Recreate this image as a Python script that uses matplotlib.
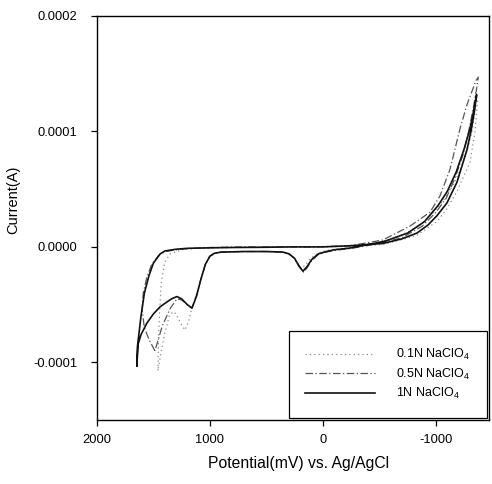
import matplotlib
matplotlib.use("Agg")
import matplotlib.pyplot as plt
import numpy as np
from matplotlib.ticker import FuncFormatter

plt.rcParams['font.family'] = ['Liberation Sans', 'DejaVu Sans']
plt.rcParams['mathtext.default'] = 'regular'

# ---- data (potential in mV, current in units of 1e-4 A) ----
labels = ['0.1N NaClO$_4$', '0.5N NaClO$_4$', '1N NaClO$_4$']

pot_01 = [1460, 1455, 1445, 1430, 1400, 1350, 1250, 1100, 800, 500,
          250, 0, -239, -531, -832, -1009, -1097, -1186, -1240, -1301,
          -1345, -1370,
          -1362, -1345, -1320, -1280, -1230, -1160, -1080, -980, -850, -650,
          -450, -239, -100, -20, 50, 110, 150, 190, 225, 265,
          310, 360, 500, 700, 900, 970, 1010, 1050, 1100, 1159,
          1190, 1221, 1260, 1300, 1327, 1360, 1400, 1430, 1460]
cur_01 = [-1.07, -0.8, -0.55, -0.3, -0.13, -0.06, -0.025, -0.01, -0.005, 0.0,
          0.0, 0.0, 0.005, 0.02, 0.1, 0.22, 0.33, 0.48, 0.6, 0.73,
          0.99, 1.28,
          1.3, 1.18, 1.0, 0.85, 0.7, 0.55, 0.42, 0.3, 0.18, 0.08,
          0.03, -0.005, -0.02, -0.035, -0.055, -0.1, -0.15, -0.19, -0.15, -0.09,
          -0.055, -0.045, -0.04, -0.04, -0.045, -0.06, -0.09, -0.18, -0.35, -0.53,
          -0.65, -0.72, -0.66, -0.58, -0.56, -0.6, -0.75, -0.9, -1.07]

pot_05 = [1487, 1540, 1580, 1600, 1590, 1560, 1515, 1450, 1390, 1300,
          1200, 1000, 700, 400, 100, -239, -531, -770, -947, -1035,
          -1124, -1212, -1274, -1320, -1354, -1375,
          -1365, -1330, -1290, -1240, -1170, -1090, -1000, -880, -700, -500,
          -239, -100, -30, 40, 100, 140, 170, 205, 250, 300,
          354, 500, 700, 900, 960, 1000, 1040, 1080, 1120, 1159,
          1200, 1250, 1292, 1350, 1420, 1487]
cur_05 = [-0.9, -0.8, -0.7, -0.55, -0.4, -0.27, -0.15, -0.07, -0.04, -0.025,
          -0.015, -0.005, 0.0, 0.0, 0.0, 0.01, 0.06, 0.18, 0.30, 0.44,
          0.67, 1.02, 1.23, 1.35, 1.44, 1.47,
          1.4, 1.2, 1.0, 0.8, 0.6, 0.42, 0.3, 0.18, 0.08, 0.03,
          -0.015, -0.03, -0.045, -0.065, -0.12, -0.18, -0.22, -0.17, -0.1, -0.06,
          -0.045, -0.04, -0.04, -0.045, -0.055, -0.08, -0.15, -0.28, -0.43, -0.53,
          -0.50, -0.46, -0.45, -0.53, -0.68, -0.9]

pot_1 = [1646, 1640, 1628, 1610, 1580, 1540, 1500, 1440, 1398, 1300,
         1195, 1000, 800, 500, 292, 0, -239, -531, -700, -832,
         -930, -1009, -1097, -1186, -1274, -1310, -1340, -1360,
         -1352, -1330, -1300, -1250, -1180, -1100, -1020, -900, -750, -550,
         -400, -239, -100, -30, 40, 100, 140, 177, 210, 250,
         300, 354, 500, 700, 900, 960, 1000, 1040, 1080, 1120,
         1159, 1200, 1250, 1292, 1340, 1400, 1442, 1500, 1558, 1610,
         1638, 1646]
cur_1 = [-1.03, -0.85, -0.75, -0.6, -0.4, -0.25, -0.14, -0.06, -0.035, -0.02,
         -0.012, -0.008, -0.005, -0.003, 0.0, 0.0, 0.01, 0.03, 0.07, 0.12,
         0.19, 0.27, 0.38, 0.56, 0.84, 1.0, 1.17, 1.32,
         1.28, 1.16, 1.02, 0.85, 0.65, 0.48, 0.36, 0.22, 0.12, 0.05,
         0.02, -0.01, -0.025, -0.04, -0.06, -0.11, -0.17, -0.21, -0.17, -0.1,
         -0.06, -0.045, -0.04, -0.04, -0.045, -0.055, -0.08, -0.15, -0.28, -0.43,
         -0.53, -0.50, -0.45, -0.43, -0.45, -0.49, -0.52, -0.58, -0.66, -0.76,
         -0.85, -1.03]

x_ticks = [2000, 1000, 0, -1000]
y_ticks = [-0.0001, 0.0, 0.0001, 0.0002]

fig = plt.figure(figsize=(4.92, 4.84), dpi=100)
ax = fig.add_axes([0.197, 0.132, 0.797, 0.835])

scale = 1e-4
ax.plot(pot_01, np.array(cur_01) * scale, color='#8a8a8a', lw=0.9,
        linestyle=(0, (1, 2.5)), label=labels[0])
ax.plot(pot_05, np.array(cur_05) * scale, color='#555555', lw=0.9,
        linestyle=(0, (6, 2, 1, 2)), label=labels[1])
ax.plot(pot_1, np.array(cur_1) * scale, color='#111111', lw=1.2,
        linestyle='-', label=labels[2])

ax.set_xlim(2000, -1470)
ax.set_ylim(-0.00015, 0.0002)
ax.set_xticks(x_ticks)
ax.set_yticks(y_ticks)
ax.yaxis.set_major_formatter(FuncFormatter(lambda v, p: f'{v:.4f}'))
ax.xaxis.set_major_formatter(FuncFormatter(lambda v, p: f'{int(round(v))}'))
ax.tick_params(direction='out', length=4, width=0.9, labelsize=9.3,
               colors='black')
ax.tick_params(axis='y', pad=10)
ax.tick_params(axis='x', pad=6)
for s in ax.spines.values():
    s.set_linewidth(1.0)
    s.set_color('black')

ax.set_xlabel('Potential(mV) vs. Ag/AgCl', fontsize=11.3)
ax.xaxis.set_label_coords(0.515, -0.09)
ax.set_ylabel('Current(A)', fontsize=10.5)
ax.yaxis.set_label_coords(-0.195, 0.545)

leg = ax.legend(loc='lower right', fontsize=9, frameon=True, fancybox=False,
                edgecolor='black', framealpha=1, borderpad=1.3,
                labelspacing=0.35, handlelength=5.6, handletextpad=1.7,
                borderaxespad=0.2)
leg.get_frame().set_linewidth(0.9)

fig.savefig('out.png', dpi=100)
